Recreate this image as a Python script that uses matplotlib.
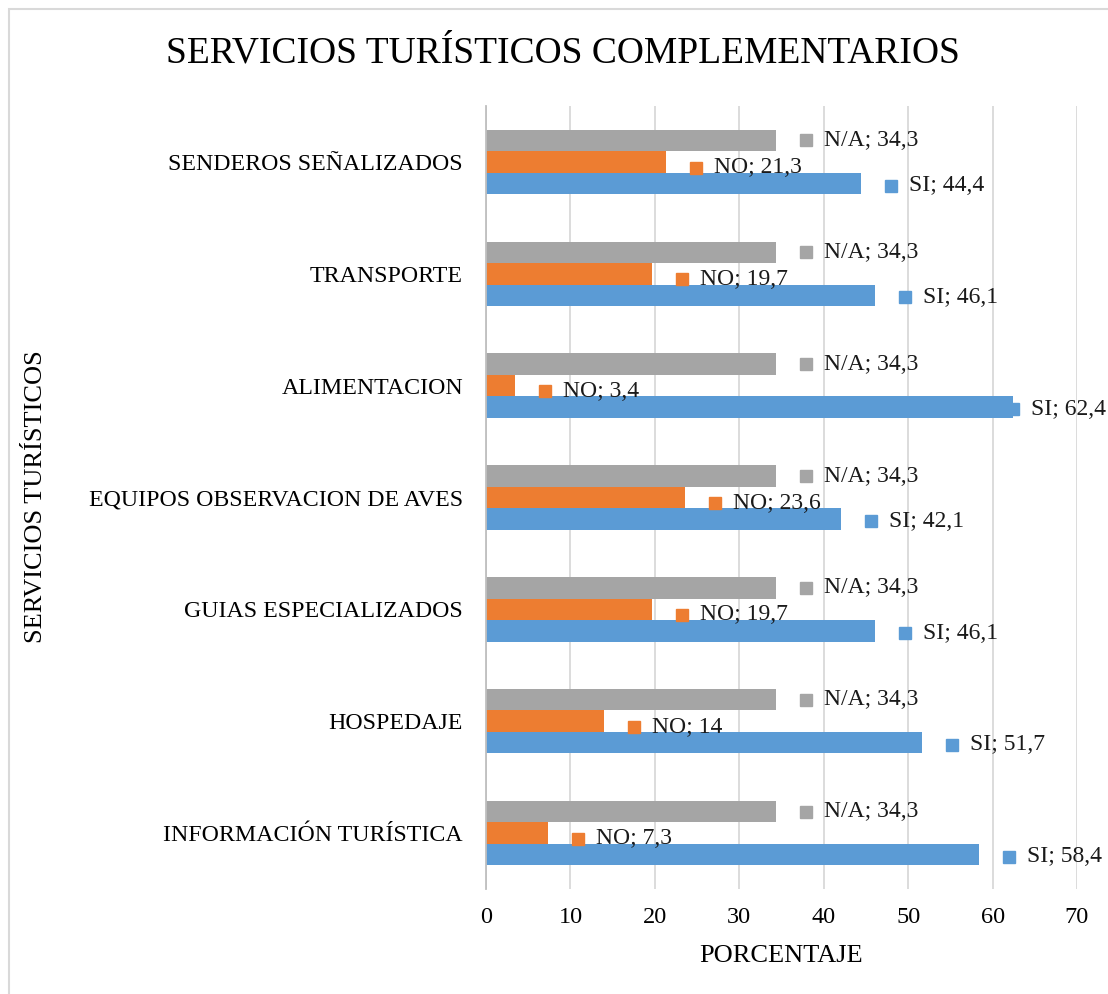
import matplotlib.pyplot as plt
from matplotlib.patches import Rectangle

# data (bottom to top, as drawn)
categorias = ["INFORMACIÓN TURÍSTICA", "HOSPEDAJE", "GUIAS ESPECIALIZADOS",
              "EQUIPOS OBSERVACION DE AVES", "ALIMENTACION", "TRANSPORTE",
              "SENDEROS SEÑALIZADOS"]
si = [58.4, 51.7, 46.1, 42.1, 62.4, 46.1, 44.4]
no = [7.3, 14, 19.7, 23.6, 3.4, 19.7, 21.3]
na = [34.3, 34.3, 34.3, 34.3, 34.3, 34.3, 34.3]
ticks_x = [0, 10, 20, 30, 40, 50, 60, 70]

plt.rcParams['font.family'] = ['Liberation Serif', 'DejaVu Serif']

fig = plt.figure(figsize=(11.08, 9.94), dpi=100)
W, H = 1108, 994
ax = fig.add_axes([486 / W, 1 - 889 / H, (1077 - 486) / W, (889 - 106) / H])

# thin grey frame (only top/left visible in the original)
fig.patches.append(Rectangle((8.5 / W, -0.1), 1.2, 1.1 - 8.5 / H,
                             transform=fig.transFigure, fill=False,
                             edgecolor='#D9D9D9', linewidth=1.5))

h = 0.192
y = list(range(len(categorias)))
series = [("SI", si, '#5B9BD5', -h, -0.02),
          ("NO", no, '#ED7D31', 0, -0.05),
          ("N/A", na, '#A5A5A5', h, 0)]

ppu = (1077 - 486) / 70.0  # pixels per unit
for nombre, vals, color, off, dy in series:
    ys = [v + off for v in y]
    ax.barh(ys, vals, height=h, color=color, zorder=2)
    for yy, v in zip(ys, vals):
        # label sits right of the bar, pulled back if it would leave the figure
        tx = min(v + 48 / ppu, 64.6)
        sx = tx - 18 / ppu
        ax.plot(sx, yy + dy, marker='s', markersize=8.5, color=color,
                linestyle='none', zorder=3, clip_on=False)
        txt = f"{nombre}; {v:g}".replace('.', ',')
        ax.text(tx, yy + dy, txt, va='center', ha='left', fontsize=17,
                color='#1a1a1a', zorder=3, clip_on=False)

ax.set_xlim(0, 70)
ax.set_ylim(-0.5, len(categorias) - 0.5)
ax.set_xticks(ticks_x)
ax.set_xticklabels([str(t) for t in ticks_x], fontsize=17.5)
ax.set_yticks(y)
ax.set_yticklabels(categorias, fontsize=17.2)
ax.tick_params(axis='x', length=0, pad=13)
ax.tick_params(axis='y', length=0, pad=16.5)
ax.grid(axis='x', color='#D9D9D9', linewidth=1.3, zorder=0)
ax.set_axisbelow(True)
for s in ['top', 'right', 'bottom']:
    ax.spines[s].set_visible(False)
ax.spines['left'].set_color('#BFBFBF')
ax.spines['left'].set_linewidth(1.3)

fig.text(563 / W, 1 - 53 / H, "SERVICIOS TURÍSTICOS COMPLEMENTARIOS",
         ha='center', va='center', fontsize=27)
fig.text(781 / W, 1 - 956 / H, "PORCENTAJE", ha='center', va='center',
         fontsize=19)
fig.text(36 / W, 1 - 497 / H, "SERVICIOS TURÍSTICOS", ha='center',
         va='center', rotation=90, fontsize=19)

fig.savefig("out.png", dpi=100)
